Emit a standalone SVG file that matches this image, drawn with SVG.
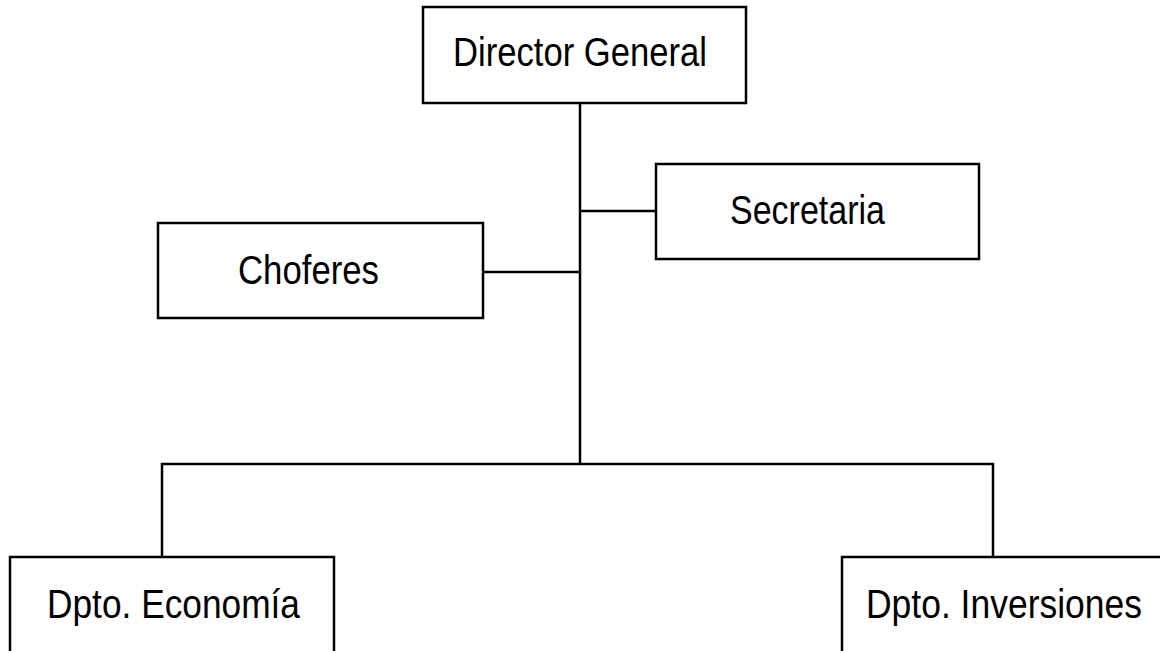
<svg xmlns="http://www.w3.org/2000/svg" width="1160" height="651" viewBox="0 0 1160 651">
<style>
.box{fill:#fff;stroke:#000;stroke-width:2.5}
.lbl{font-family:"Liberation Sans",Arial,sans-serif;font-size:41px;fill:#000}
.con{fill:none;stroke:#000;stroke-width:2.5}
</style>
<rect width="1160" height="651" fill="#fff"/>
<g id="connectors">
<line class="con" x1="580" y1="103" x2="580" y2="464"/>
<line class="con" x1="580" y1="211" x2="656" y2="211"/>
<line class="con" x1="483" y1="272" x2="580" y2="272"/>
<polyline class="con" points="162,557 162,464 993,464 993,557"/>
</g>
<g id="director">
<rect class="box" x="423" y="7" width="323" height="96"/>
<text class="lbl" x="453" y="66" textLength="254" lengthAdjust="spacingAndGlyphs">Director General</text>
</g>
<g id="secretaria">
<rect class="box" x="656" y="164" width="323" height="95"/>
<text class="lbl" x="730" y="224" textLength="155" lengthAdjust="spacingAndGlyphs">Secretaria</text>
</g>
<g id="choferes">
<rect class="box" x="158" y="223" width="325" height="95"/>
<text class="lbl" x="238" y="284" textLength="141" lengthAdjust="spacingAndGlyphs">Choferes</text>
</g>
<g id="economia">
<rect class="box" x="10" y="557" width="324" height="110"/>
<text class="lbl" x="47" y="618" textLength="253" lengthAdjust="spacingAndGlyphs">Dpto. Economía</text>
</g>
<g id="inversiones">
<rect class="box" x="842" y="557" width="340" height="110"/>
<text class="lbl" x="866" y="618" textLength="276" lengthAdjust="spacingAndGlyphs">Dpto. Inversiones</text>
</g>
</svg>
